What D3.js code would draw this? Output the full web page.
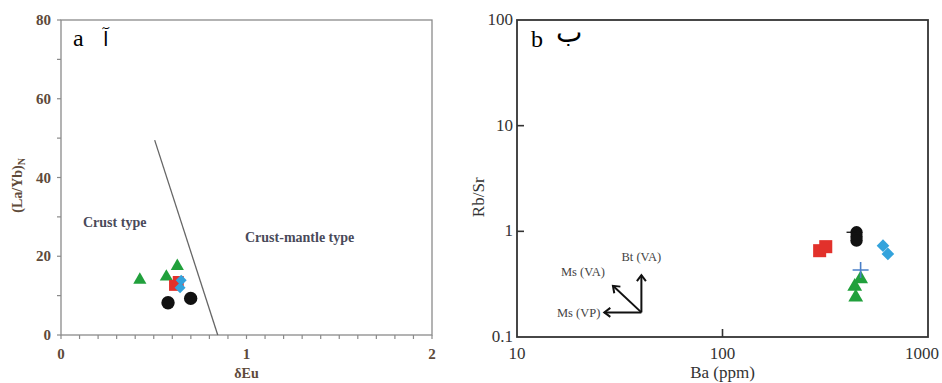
<!DOCTYPE html>
<html>
<head>
<meta charset="utf-8">
<script src="https://cdn.jsdelivr.net/npm/d3@7"></script>
<style>
  body { margin: 0; background: #fff; }
  svg { display: block; }
</style>
</head>
<body>
<div id="chart"></div>
<script>
// ---- panel a data: dEu vs (La/Yb)N ----
const aTriangles = [[0.425, 14.0], [0.568, 14.8], [0.627, 17.5]];
const aSquares = [[0.612, 12.6], [0.632, 13.6]];
const aDiamonds = [[0.648, 13.9], [0.642, 12.0]];
const aCircles = [[0.577, 8.2], [0.699, 9.3]];
const aBoundary = [[0.505, 49.5], [0.845, 0]];
const aXTicks = [0, 1, 2];
const aYTicks = [0, 20, 40, 60, 80];

// ---- panel b data: Ba vs Rb/Sr ----
const bSquares = [[297, 0.656], [318, 0.716]];
const bCircles = [[449, 0.98], [449, 0.89], [449, 0.817]];
const bDiamonds = [[604, 0.732], [638, 0.611]];
const bPlus = [[470, 0.431]];
const bTriangles = [[470, 0.355], [440, 0.300], [445, 0.238]];
const bXTicks = [10, 100, 1000];
const bYTicks = [0.1, 1, 10, 100];
const vecOrigin = [40.3, 0.171];
const vecEnds = [
  {name: "Bt (VA)", end: [40.3, 0.385]},
  {name: "Ms (VA)", end: [29.3, 0.305]},
  {name: "Ms (VP)", end: [26.6, 0.171]}
];

const green = "#21a03c", red = "#e2312b", blue = "#33a3dc", black = "#111";
const serif = "'Liberation Serif', 'DejaVu Serif', serif";

const svg = d3.select("#chart").append("svg")
  .attr("width", 942).attr("height", 383);

// ================= panel a =================
const xa = d3.scaleLinear().domain([0, 2]).range([61, 432]);
const ya = d3.scaleLinear().domain([0, 80]).range([335, 20]);
const aText = "#5e4a3a";
const gA = svg.append("g");

// frame
gA.append("rect")
  .attr("x", xa(0)).attr("y", ya(80))
  .attr("width", xa(2) - xa(0)).attr("height", ya(0) - ya(80))
  .attr("fill", "none").attr("stroke", "#8a8a8a").attr("stroke-width", 1.3);

// minor ticks
gA.append("g").selectAll("line").data(d3.range(0, 2.001, 0.1)).join("line")
  .attr("x1", d => xa(d)).attr("x2", d => xa(d))
  .attr("y1", ya(0)).attr("y2", ya(0) + 4)
  .attr("stroke", "#8a8a8a").attr("stroke-width", 1.2);
gA.append("g").selectAll("line").data(d3.range(0, 80.1, 10)).join("line")
  .attr("x1", xa(0) - 4).attr("x2", xa(0))
  .attr("y1", d => ya(d)).attr("y2", d => ya(d))
  .attr("stroke", "#8a8a8a").attr("stroke-width", 1.2);

// tick labels
gA.append("g").selectAll("text").data(aXTicks).join("text")
  .attr("x", d => xa(d)).attr("y", 359)
  .attr("text-anchor", "middle")
  .attr("font-family", serif).attr("font-weight", "bold")
  .attr("font-size", 15).attr("fill", aText)
  .text(d => d);
gA.append("g").selectAll("text").data(aYTicks).join("text")
  .attr("x", 51).attr("y", d => ya(d) + 5)
  .attr("text-anchor", "end")
  .attr("font-family", serif).attr("font-weight", "bold")
  .attr("font-size", 15).attr("fill", aText)
  .text(d => d);

// axis titles
gA.append("text")
  .attr("x", xa(1)).attr("y", 378)
  .attr("text-anchor", "middle")
  .attr("font-family", serif).attr("font-weight", "bold")
  .attr("font-size", 14).attr("fill", aText)
  .text("δEu");
const yLab = gA.append("text")
  .attr("transform", `translate(22, ${ya(38)}) rotate(-90)`)
  .attr("text-anchor", "middle")
  .attr("font-family", serif).attr("font-weight", "bold")
  .attr("font-size", 14).attr("fill", aText);
yLab.append("tspan").text("(La/Yb)");
yLab.append("tspan").attr("font-size", 10).attr("dy", 3).text("N");

// field labels
gA.append("text").attr("x", 83).attr("y", 227)
  .attr("font-family", serif).attr("font-weight", "bold")
  .attr("font-size", 14).attr("fill", "#4a4a5a").text("Crust type");
gA.append("text").attr("x", 245).attr("y", 242)
  .attr("font-family", serif).attr("font-weight", "bold")
  .attr("font-size", 14).attr("fill", "#4a4a5a").text("Crust-mantle type");

// boundary line
gA.append("path")
  .datum(aBoundary)
  .attr("d", d3.line().x(d => xa(d[0])).y(d => ya(d[1])))
  .attr("stroke", "#666").attr("stroke-width", 1.3).attr("fill", "none");

// panel letter
gA.append("text").attr("x", 73).attr("y", 46)
  .attr("font-family", serif).attr("font-size", 24)
  .attr("fill", "#000").text("a");
gA.append("text").attr("x", 103).attr("y", 46)
  .attr("font-family", "DejaVu Sans, sans-serif").attr("font-size", 20)
  .attr("fill", "#000").text("آ");

// symbols
function drawSymbols(g, data, x, y, type, size, color, rot) {
  g.append("g").selectAll("path").data(data).join("path")
    .attr("d", d3.symbol().type(type).size(size))
    .attr("transform", d => `translate(${x(d[0])},${y(d[1])}) rotate(${rot || 0})`)
    .attr("fill", color);
}
drawSymbols(gA, aTriangles, xa, ya, d3.symbolTriangle, 75, green);
drawSymbols(gA, aSquares, xa, ya, d3.symbolSquare, 120, red);
drawSymbols(gA, aDiamonds, xa, ya, d3.symbolSquare, 60, blue, 45);
drawSymbols(gA, aCircles, xa, ya, d3.symbolCircle, 140, black);

// ================= panel b =================
const xb = d3.scaleLog().domain([10, 1000]).range([517, 928]);
const yb = d3.scaleLog().domain([0.1, 100]).range([337, 20]);
const gB = svg.append("g");

gB.append("rect")
  .attr("x", xb(10)).attr("y", yb(100))
  .attr("width", xb(1000) - xb(10)).attr("height", yb(0.1) - yb(100))
  .attr("fill", "none").attr("stroke", "#333").attr("stroke-width", 1.8);

// inner ticks
gB.append("g").selectAll("line").data([1, 10]).join("line")
  .attr("x1", xb(10)).attr("x2", xb(10) + 7)
  .attr("y1", d => yb(d)).attr("y2", d => yb(d))
  .attr("stroke", "#333").attr("stroke-width", 1.6);
gB.append("line")
  .attr("x1", xb(100)).attr("x2", xb(100))
  .attr("y1", yb(0.1)).attr("y2", yb(0.1) - 8)
  .attr("stroke", "#333").attr("stroke-width", 1.6);

gB.append("g").selectAll("text").data(bYTicks).join("text")
  .attr("x", 513).attr("y", d => yb(d) + 5)
  .attr("text-anchor", "end")
  .attr("font-family", serif)
  .attr("font-size", 17).attr("fill", "#333")
  .text(d => d);
gB.append("g").selectAll("text").data(bXTicks).join("text")
  .attr("x", d => d === 1000 ? 922 : xb(d)).attr("y", 359)
  .attr("text-anchor", "middle")
  .attr("font-family", serif)
  .attr("font-size", 17).attr("fill", "#333")
  .text(d => d);

gB.append("text")
  .attr("x", xb(100)).attr("y", 378)
  .attr("text-anchor", "middle")
  .attr("font-family", serif)
  .attr("font-size", 17).attr("fill", "#333")
  .text("Ba (ppm)");
gB.append("text")
  .attr("transform", `translate(484, ${yb(2.1)}) rotate(-90)`)
  .attr("text-anchor", "middle")
  .attr("font-family", serif)
  .attr("font-size", 17).attr("fill", "#333")
  .text("Rb/Sr");

gB.append("text").attr("x", 531).attr("y", 47)
  .attr("font-family", serif).attr("font-size", 24)
  .attr("fill", "#000").text("b");
gB.append("text").attr("x", 556).attr("y", 42)
  .attr("font-family", "DejaVu Sans, sans-serif").attr("font-size", 28)
  .attr("fill", "#000").text("ب");

// vectors
svg.append("defs").append("marker")
  .attr("id", "arr").attr("viewBox", "-8 -6 10 12")
  .attr("refX", 0).attr("refY", 0)
  .attr("markerWidth", 10).attr("markerHeight", 12)
  .attr("markerUnits", "userSpaceOnUse")
  .attr("orient", "auto")
  .append("path").attr("d", "M-6,-4.5 L0,0 L-6,4.5")
  .attr("fill", "none").attr("stroke", "#111").attr("stroke-width", 2);

gB.append("g").selectAll("line").data(vecEnds).join("line")
  .attr("x1", xb(vecOrigin[0])).attr("y1", yb(vecOrigin[1]))
  .attr("x2", d => xb(d.end[0])).attr("y2", d => yb(d.end[1]))
  .attr("stroke", "#111").attr("stroke-width", 2)
  .attr("marker-end", "url(#arr)");

const vecLab = {"Bt (VA)": [0, -14, "middle"], "Ms (VA)": [-30, -10, "middle"], "Ms (VP)": [-4, 5, "end"]};
gB.append("g").selectAll("text").data(vecEnds).join("text")
  .attr("x", d => xb(d.end[0]) + vecLab[d.name][0])
  .attr("y", d => yb(d.end[1]) + vecLab[d.name][1])
  .attr("text-anchor", d => vecLab[d.name][2])
  .attr("font-family", serif)
  .attr("font-size", 12.5).attr("fill", "#444")
  .text(d => d.name);

drawSymbols(gB, bSquares, xb, yb, d3.symbolSquare, 170, red);
drawSymbols(gB, bDiamonds, xb, yb, d3.symbolSquare, 80, blue, 45);
drawSymbols(gB, bCircles, xb, yb, d3.symbolCircle, 120, black);
drawSymbols(gB, bTriangles, xb, yb, d3.symbolTriangle, 95, green);
// small black dash beside circles
gB.append("line")
  .attr("x1", xb(bCircles[0][0]) - 10).attr("x2", xb(bCircles[0][0]))
  .attr("y1", yb(bCircles[0][1])).attr("y2", yb(bCircles[0][1]))
  .attr("stroke", black).attr("stroke-width", 1.3);
// plus marker
gB.append("g").selectAll("path").data(bPlus).join("path")
  .attr("d", d => `M${xb(d[0]) - 8},${yb(d[1])}h16M${xb(d[0])},${yb(d[1]) - 8}v16`)
  .attr("stroke", "#4a7fc8").attr("stroke-width", 1.6);
</script>
</body>
</html>
